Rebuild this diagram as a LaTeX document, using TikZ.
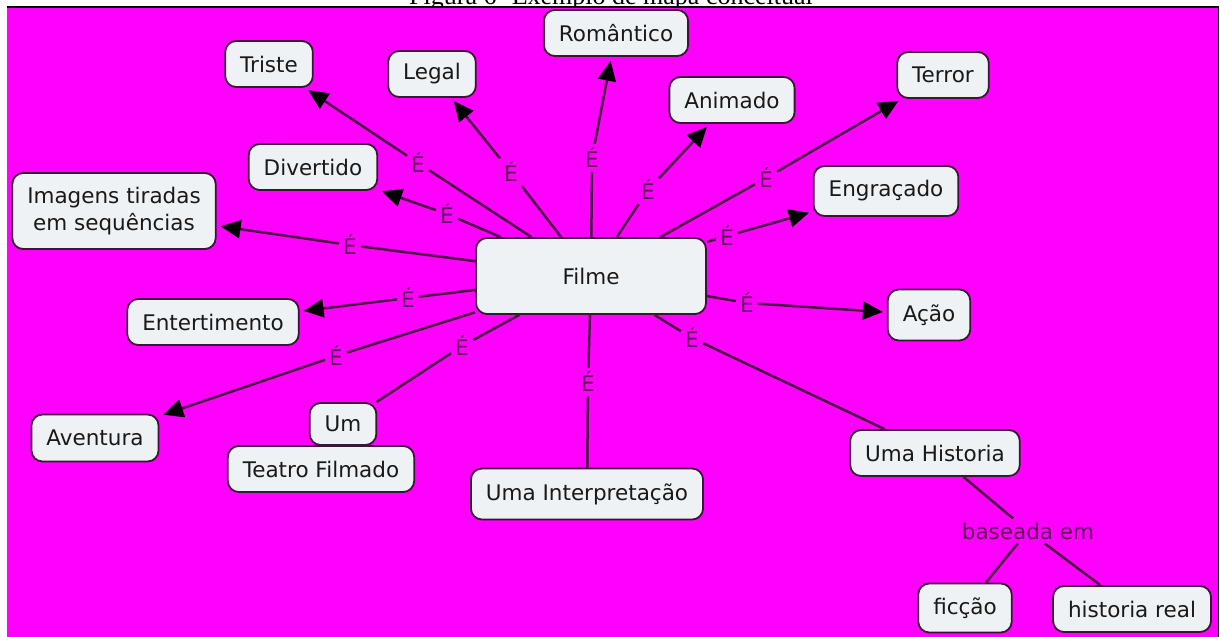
\documentclass[tikz,border=0pt]{standalone}
\usepackage{fontspec}
\setmainfont{DejaVu Sans}
\newfontfamily\capfont{Liberation Serif}
\usetikzlibrary{arrows.meta}
\definecolor{mapbg}{HTML}{FF00FF}
\definecolor{boxfill}{HTML}{EEF2F5}
\definecolor{boxline}{HTML}{3A1636}
\definecolor{linkline}{HTML}{4A0E45}
\definecolor{linktext}{HTML}{5E0F58}
\begin{document}
\begin{tikzpicture}[x=1pt,y=-1pt,
  concept/.style={draw=boxline, line width=1.8pt, fill=boxfill, rounded corners=11pt, inner xsep=15pt, minimum height=46pt, text=black!90, font=\fontsize{21.5}{27}\selectfont},
  link/.style={text=linktext, inner sep=4pt, font=\fontsize{21.5}{27}\selectfont},
  rel/.style={draw=linkline, line width=2.5pt},
  isa/.style={rel, shorten >=4pt, -{Triangle[length=20pt,width=18pt,color=black]}}]
\useasboundingbox (0,0) rectangle (1221,637);
\node[font={\capfont\fontsize{26}{30}\selectfont}, anchor=base, inner sep=0pt] (caption) at (611,5) {Figura 6- Exemplo de mapa conceitual};
\fill[mapbg] (7,7) rectangle (1218,637);
\draw[line width=1.5pt] (7,7) -- (1218.5,7) -- (1218.5,637);
\node[concept, minimum width=230pt, minimum height=76pt] (filme) at (591,276){Filme};
\node[concept] (triste) at (269,64){Triste};
\node[concept] (legal) at (432,74){Legal};
\node[concept] (romantico) at (616,33){Romântico};
\node[concept] (animado) at (732,100){Animado};
\node[concept] (terror) at (943,75){Terror};
\node[concept, minimum height=50pt] (engracado) at (886,191){Engraçado};
\node[concept] (divertido) at (313,167){Divertido};
\node[concept, minimum height=76pt, align=center] (imagens) at (114,211){Imagens tiradas\\em sequências};
\node[concept] (entertimento) at (213,322){Entertimento};
\node[concept, minimum height=51pt] (acao) at (929,315){Ação};
\node[concept, minimum height=47pt] (aventura) at (95,438){Aventura};
\node[concept, minimum height=42pt] (um) at (343,424){Um};
\node[concept] (teatro) at (321,469){Teatro Filmado};
\node[concept, minimum height=51pt] (interpretacao) at (587,494){Uma Interpretação};
\node[concept] (historia) at (935,453){Uma Historia};
\node[concept, minimum height=49pt] (ficcao) at (965,608){ficção};
\node[concept] (real) at (1132,609){historia real};
\node[link] (e1) at (418,163){É};
\node[link] (e2) at (511,172){É};
\node[link] (e3) at (592,158){É};
\node[link] (e4) at (648,190){É};
\node[link] (e5) at (766,178){É};
\node[link] (e6) at (447,214){É};
\node[link] (e7) at (727,236){É};
\node[link] (e8) at (350,245){É};
\node[link] (e9) at (408,298){É};
\node[link] (e10) at (747,303){É};
\node[link] (e11) at (336,356){É};
\node[link] (e12) at (462,346){É};
\node[link] (e13) at (588,382){É};
\node[link] (e14) at (692,338){É};
\node[link] (baseada) at (1028,531){baseada em};
\draw[rel](filme) -- (e1);
\draw[isa](e1) -- (triste);
\draw[rel](filme) -- (e2);
\draw[isa](e2) -- (legal);
\draw[rel](filme) -- (e3);
\draw[isa](e3) -- (romantico);
\draw[rel](filme) -- (e4);
\draw[isa](e4) -- (animado);
\draw[rel](filme) -- (e5);
\draw[isa](e5) -- (terror);
\draw[rel](filme) -- (e6);
\draw[isa](e6) -- (divertido);
\draw[rel](filme) -- (e7);
\draw[isa](e7) -- (engracado);
\draw[rel](filme) -- (e8);
\draw[isa](e8) -- (imagens);
\draw[rel](filme) -- (e9);
\draw[isa](e9) -- (entertimento);
\draw[rel](filme) -- (e10);
\draw[isa](e10) -- (acao);
\draw[rel](filme) -- (e11);
\draw[isa](e11) -- (aventura);
\draw[rel](filme) -- (e12);
\draw[rel](e12) -- (um);
\draw[rel](filme) -- (e13);
\draw[rel](e13) -- (interpretacao);
\draw[rel](filme) -- (e14);
\draw[rel](e14) -- (historia);
\draw[rel](historia) -- (baseada);
\draw[rel](baseada) -- (ficcao);
\draw[rel](baseada) -- (real);
\end{tikzpicture}
\end{document}
